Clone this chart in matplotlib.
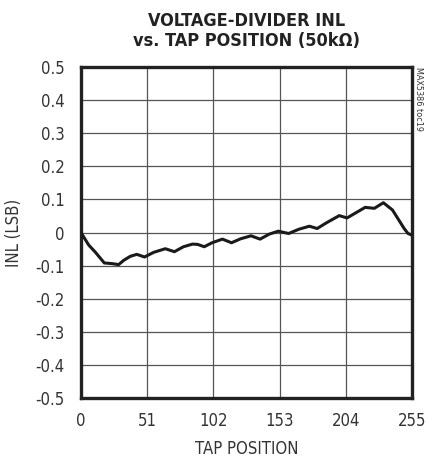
import matplotlib
matplotlib.use('Agg')
import matplotlib.pyplot as plt

plt.rcParams['font.family'] = ['DejaVu Sans']
plt.rcParams['font.stretch'] = 'condensed'

tap = [0, 6, 11, 18, 24, 29, 33, 38, 43, 49, 56, 65, 72, 79, 86, 90, 95, 101, 109, 116,
       123, 131, 138, 145, 152, 160, 168, 176, 182, 189, 199, 205, 212, 219, 226, 233,
       240, 245, 249, 252, 255]
inl = [0.0, -0.038, -0.059, -0.092, -0.094, -0.097, -0.084, -0.072, -0.066, -0.074,
       -0.060, -0.049, -0.058, -0.043, -0.035, -0.036, -0.043, -0.031, -0.020, -0.031,
       -0.019, -0.010, -0.020, -0.005, 0.004, -0.003, 0.010, 0.019, 0.012, 0.029,
       0.051, 0.044, 0.060, 0.076, 0.073, 0.090, 0.068, 0.037, 0.012, -0.003, -0.008]

xticks = [0, 51, 102, 153, 204, 255]
yticks = [0.5, 0.4, 0.3, 0.2, 0.1, 0, -0.1, -0.2, -0.3, -0.4, -0.5]
ylabels = ['0.5', '0.4', '0.3', '0.2', '0.1', '0', '-0.1', '-0.2', '-0.3', '-0.4', '-0.5']

fig = plt.figure(figsize=(4.26, 4.62), dpi=100)
ax = fig.add_axes([0.190, 0.1385, 0.777, 0.7165])

ax.plot(tap, inl, color='#1a1a1a', lw=2.2, solid_joinstyle='round', zorder=3)

ax.set_xlim(0, 255)
ax.set_ylim(-0.5, 0.5)
ax.set_xticks(xticks)
ax.set_yticks(yticks)
ax.set_yticklabels(ylabels)
ax.tick_params(length=0, labelsize=12, colors='#333333')
ax.tick_params(axis='y', pad=12)
ax.tick_params(axis='x', pad=10)
ax.grid(True, color='#555555', lw=0.9)
for s in ax.spines.values():
    s.set_linewidth(2.4)
    s.set_color('#222222')

ax.set_xlabel('TAP POSITION', fontsize=12, color='#333333', labelpad=7)
ax.set_ylabel('INL (LSB)', fontsize=12, color='#333333', labelpad=9)
fig.text(0.578, 0.933, 'VOLTAGE-DIVIDER INL\nvs. TAP POSITION (50k\u03a9)', ha='center', va='center',
         fontsize=13, fontweight='bold', color='#222222', linespacing=1.2)
fig.text(0.983, 0.855, 'MAX5386 toc19', rotation=270, ha='center', va='top', fontsize=6.5, color='#333333')

fig.savefig('out.png', dpi=100)
